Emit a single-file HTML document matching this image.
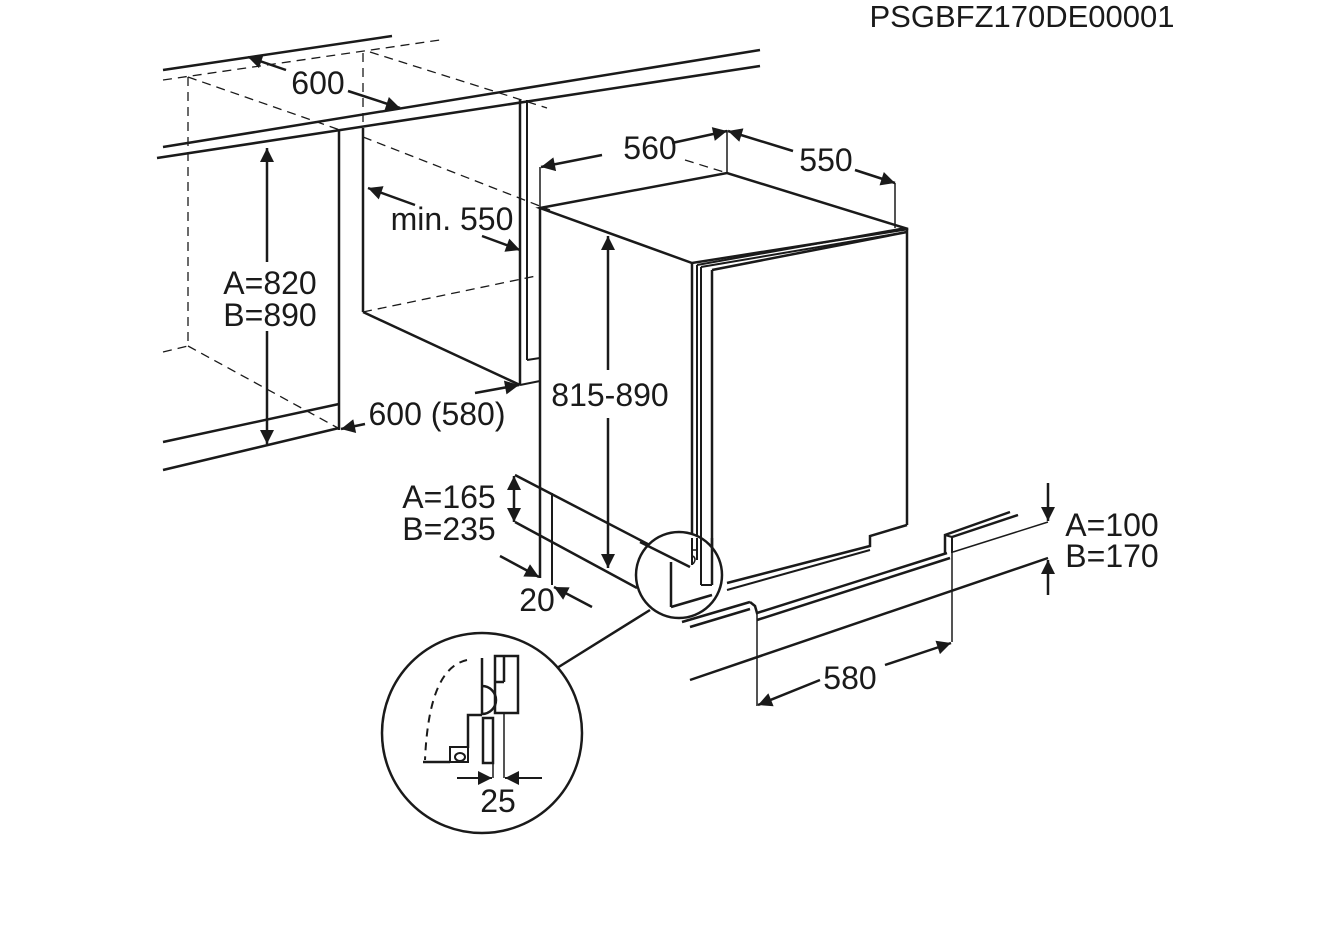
<!DOCTYPE html>
<html><head><meta charset="utf-8"><style>
html,body{margin:0;padding:0;background:#fff;}
svg{display:block;}
text{font-family:"Liberation Sans",Arial,sans-serif;fill:#1a1a1a;}
</style></head><body>
<svg width="1324" height="929" viewBox="0 0 1324 929" xmlns="http://www.w3.org/2000/svg">
<defs>
<marker id="b" viewBox="0 0 10 10" refX="10" refY="5" markerWidth="26" markerHeight="14" markerUnits="userSpaceOnUse" orient="auto"><path d="M0,0 L10,5 L0,10 z" fill="#1a1a1a"/></marker>
</defs>
<g stroke="#1a1a1a" fill="none" stroke-linecap="butt">
<line x1="163" y1="70" x2="392" y2="36" stroke-width="2.5"/>
<line x1="163" y1="80" x2="440" y2="40" stroke-width="1.3" stroke-dasharray="9,6"/>
<line x1="163" y1="147" x2="760" y2="50" stroke-width="2.5"/>
<line x1="157" y1="158" x2="760" y2="66" stroke-width="2.5"/>
<line x1="188" y1="77" x2="188" y2="346" stroke-width="1.3" stroke-dasharray="9,6"/>
<line x1="188" y1="77" x2="340" y2="130" stroke-width="1.3" stroke-dasharray="9,6"/>
<line x1="163" y1="352" x2="188" y2="346" stroke-width="1.3" stroke-dasharray="9,6"/>
<line x1="188" y1="346" x2="338" y2="428" stroke-width="1.3" stroke-dasharray="9,6"/>
<line x1="363" y1="53" x2="363" y2="128" stroke-width="1.3" stroke-dasharray="9,6"/>
<line x1="370" y1="52" x2="547" y2="108" stroke-width="1.3" stroke-dasharray="9,6"/>
<line x1="363" y1="137" x2="550" y2="210" stroke-width="1.3" stroke-dasharray="9,6"/>
<line x1="363" y1="312" x2="536" y2="276" stroke-width="1.3" stroke-dasharray="9,6"/>
<line x1="685" y1="160" x2="727" y2="173" stroke-width="1.3" stroke-dasharray="9,6"/>
<line x1="339" y1="130" x2="339" y2="430" stroke-width="2.5"/>
<line x1="363" y1="128" x2="363" y2="312" stroke-width="2.5"/>
<line x1="363" y1="312" x2="520" y2="385" stroke-width="2.5"/>
<line x1="520" y1="100" x2="520" y2="385" stroke-width="2.5"/>
<line x1="527" y1="100" x2="527" y2="360" stroke-width="2"/>
<line x1="527" y1="360" x2="540" y2="358" stroke-width="2"/>
<line x1="520" y1="385" x2="540" y2="381" stroke-width="2"/>
<line x1="163" y1="442" x2="339" y2="404" stroke-width="2.5"/>
<line x1="163" y1="470" x2="339" y2="428" stroke-width="2.5"/>
<line x1="267" y1="262" x2="267" y2="148" stroke-width="2.5" marker-end="url(#b)"/>
<line x1="267" y1="331" x2="267" y2="444" stroke-width="2.5" marker-end="url(#b)"/>
<line x1="286" y1="70" x2="248" y2="57" stroke-width="2.5" marker-end="url(#b)"/>
<line x1="348" y1="91" x2="400" y2="108" stroke-width="2.5" marker-end="url(#b)"/>
<line x1="415" y1="205" x2="368" y2="188" stroke-width="2.5" marker-end="url(#b)"/>
<line x1="482" y1="236" x2="520" y2="250" stroke-width="2.5" marker-end="url(#b)"/>
<line x1="475" y1="393" x2="519" y2="385" stroke-width="2.5" marker-end="url(#b)"/>
<line x1="365" y1="424" x2="341" y2="429" stroke-width="2.5" marker-end="url(#b)"/>
<polygon points="540,208 727,173 908,229 692,263" stroke-width="2.5"/>
<line x1="540" y1="208" x2="540" y2="578" stroke-width="2.5"/>
<line x1="692" y1="263" x2="692" y2="555" stroke-width="2.5"/>
<line x1="697" y1="265" x2="697" y2="555" stroke-width="2"/>
<line x1="701" y1="267" x2="701" y2="550" stroke-width="2"/>
<line x1="712" y1="270" x2="712" y2="585" stroke-width="2.5"/>
<line x1="697" y1="265" x2="905" y2="228" stroke-width="2"/>
<line x1="701" y1="267" x2="907" y2="232" stroke-width="2"/>
<line x1="712" y1="270" x2="907" y2="232" stroke-width="2.5"/>
<line x1="907" y1="229" x2="907" y2="525" stroke-width="2.5"/>
<polyline points="907,525 870,536 870,546 727,583" stroke-width="2.5"/>
<line x1="727" y1="590" x2="870" y2="550" stroke-width="2"/>
<line x1="515" y1="475" x2="692" y2="567" stroke-width="2.5"/>
<line x1="515" y1="522" x2="637" y2="588" stroke-width="2.5"/>
<line x1="552" y1="493" x2="552" y2="585" stroke-width="2"/>
<line x1="682" y1="622" x2="750" y2="602" stroke-width="2.5"/>
<line x1="690" y1="627" x2="750" y2="609" stroke-width="2.5"/>
<polyline points="750,602 755,606 757,613 947,553" stroke-width="2.5"/>
<line x1="757" y1="620" x2="950" y2="558" stroke-width="2.5"/>
<polyline points="945,553 945,535 1010,512" stroke-width="2.5"/>
<line x1="952" y1="537" x2="1018" y2="515" stroke-width="2.5"/>
<line x1="945" y1="535" x2="952" y2="537" stroke-width="2"/>
<line x1="952" y1="537" x2="952" y2="553" stroke-width="2"/>
<line x1="690" y1="680" x2="1048" y2="558" stroke-width="2.5"/>
<line x1="953" y1="552" x2="1048" y2="522" stroke-width="1.5"/>
<line x1="757" y1="613" x2="757" y2="706" stroke-width="1.5"/>
<line x1="952" y1="553" x2="952" y2="642" stroke-width="1.5"/>
<line x1="540" y1="167" x2="540" y2="208" stroke-width="1.5"/>
<line x1="727" y1="130" x2="727" y2="173" stroke-width="1.5"/>
<line x1="895" y1="183" x2="895" y2="228" stroke-width="1.5"/>
<line x1="602" y1="155" x2="541" y2="167" stroke-width="2.5" marker-end="url(#b)"/>
<line x1="672" y1="143" x2="727" y2="131" stroke-width="2.5" marker-end="url(#b)"/>
<line x1="793" y1="151" x2="728" y2="131" stroke-width="2.5" marker-end="url(#b)"/>
<line x1="855" y1="170" x2="895" y2="183" stroke-width="2.5" marker-end="url(#b)"/>
<line x1="608" y1="370" x2="608" y2="236" stroke-width="2.5" marker-end="url(#b)"/>
<line x1="608" y1="418" x2="608" y2="568" stroke-width="2.5" marker-end="url(#b)"/>
<line x1="514" y1="499" x2="514" y2="476" stroke-width="2.5" marker-end="url(#b)"/>
<line x1="514" y1="499" x2="514" y2="522" stroke-width="2.5" marker-end="url(#b)"/>
<line x1="500" y1="556" x2="539" y2="577" stroke-width="2.5" marker-end="url(#b)"/>
<line x1="592" y1="607" x2="554" y2="587" stroke-width="2.5" marker-end="url(#b)"/>
<line x1="1048" y1="483" x2="1048" y2="521" stroke-width="2.5" marker-end="url(#b)"/>
<line x1="1048" y1="595" x2="1048" y2="560" stroke-width="2.5" marker-end="url(#b)"/>
<line x1="820" y1="680" x2="758" y2="705" stroke-width="2.5" marker-end="url(#b)"/>
<line x1="885" y1="665" x2="951" y2="643" stroke-width="2.5" marker-end="url(#b)"/>
<circle cx="679" cy="575" r="43" stroke-width="2.5" fill="#fff"/>
<line x1="640" y1="542" x2="690" y2="567" stroke-width="2.5"/>
<line x1="671" y1="562" x2="671" y2="607" stroke-width="2.5"/>
<line x1="671" y1="607" x2="712" y2="595" stroke-width="2.5"/>
<line x1="692" y1="538" x2="692" y2="565" stroke-width="2"/>
<line x1="697" y1="538" x2="697" y2="560" stroke-width="2"/>
<line x1="701" y1="538" x2="701" y2="560" stroke-width="2"/>
<line x1="712" y1="538" x2="712" y2="585" stroke-width="2.5"/>
<line x1="701" y1="560" x2="701" y2="585" stroke-width="2"/>
<line x1="701" y1="585" x2="712" y2="585" stroke-width="2"/>
<path d="M692,550 h6 M693,556 q4,3 0,8" stroke-width="1.5"/>
<line x1="650" y1="610" x2="557" y2="668" stroke-width="2.5"/>
<circle cx="482" cy="733" r="100" stroke-width="2.5" fill="#fff"/>
<rect x="495" y="656" width="23" height="57" stroke-width="2.5"/>
<line x1="504" y1="656" x2="504" y2="682" stroke-width="2.5"/>
<line x1="495" y1="682" x2="504" y2="682" stroke-width="2.5"/>
<line x1="504" y1="713" x2="504" y2="778" stroke-width="1.5"/>
<path d="M482,658 V715 M482,686 a14,14 0 0 1 0,28" stroke-width="2.5"/>
<polyline points="482,715 468,715 468,748" stroke-width="2.5"/>
<rect x="483" y="718" width="10" height="45" stroke-width="2.5"/>
<line x1="493" y1="763" x2="493" y2="778" stroke-width="1.5"/>
<rect x="450" y="747" width="18" height="15" stroke-width="2"/>
<ellipse cx="460" cy="757" rx="5" ry="4" stroke-width="2"/>
<line x1="423" y1="762" x2="450" y2="762" stroke-width="2.5"/>
<path d="M467,660 C445,665 428,690 425,760" stroke-width="2" stroke-dasharray="8,6"/>
<line x1="457" y1="778" x2="492" y2="778" stroke-width="2" marker-end="url(#b)"/>
<line x1="542" y1="778" x2="505" y2="778" stroke-width="2" marker-end="url(#b)"/>
</g>
<g font-size="32">
<text x="1022" y="27" text-anchor="middle" font-size="31">PSGBFZ170DE00001</text>
<text x="318" y="94" text-anchor="middle">600</text>
<text x="452" y="230" text-anchor="middle">min. 550</text>
<text x="270" y="294" text-anchor="middle">A=820</text>
<text x="270" y="326" text-anchor="middle">B=890</text>
<text x="437" y="425" text-anchor="middle">600 (580)</text>
<text x="650" y="159" text-anchor="middle">560</text>
<text x="826" y="171" text-anchor="middle">550</text>
<text x="610" y="406" text-anchor="middle">815-890</text>
<text x="449" y="508" text-anchor="middle">A=165</text>
<text x="449" y="540" text-anchor="middle">B=235</text>
<text x="537" y="611" text-anchor="middle">20</text>
<text x="1112" y="536" text-anchor="middle">A=100</text>
<text x="1112" y="567" text-anchor="middle">B=170</text>
<text x="850" y="689" text-anchor="middle">580</text>
<text x="498" y="812" text-anchor="middle">25</text>
</g>
</svg>
</body></html>
